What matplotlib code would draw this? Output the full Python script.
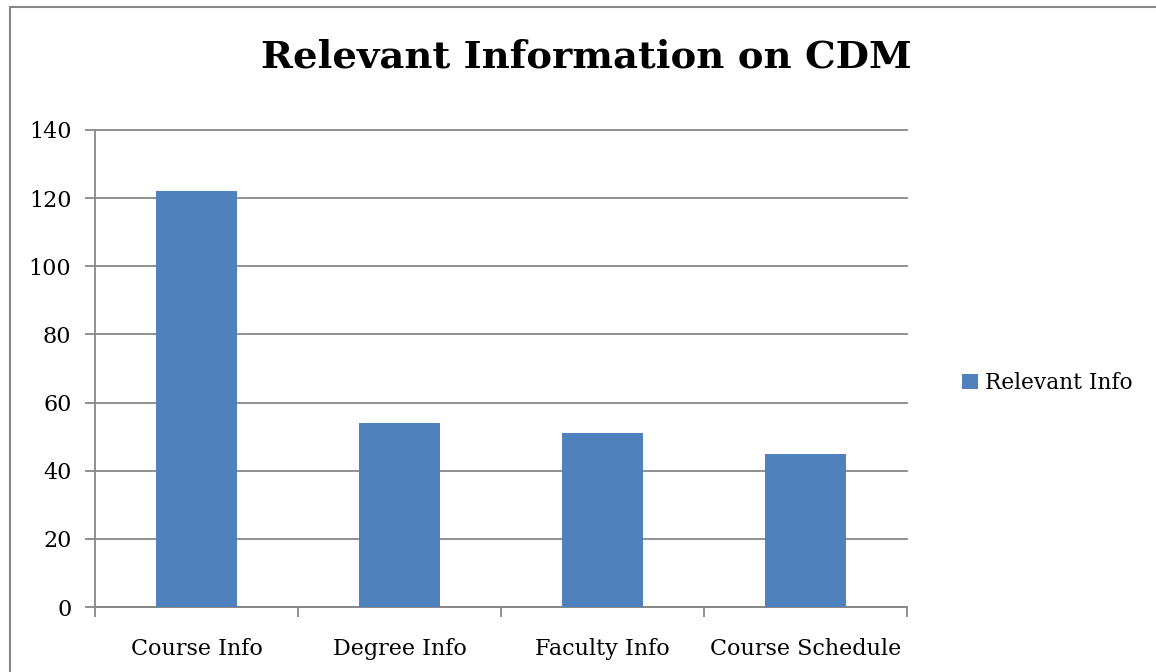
import matplotlib.pyplot as plt
from matplotlib.patches import Rectangle

categories = ['Course Info', 'Degree Info', 'Faculty Info', 'Course Schedule']
values = [122, 54, 51, 45]
series_name = 'Relevant Info'
yticks = [0, 20, 40, 60, 80, 100, 120, 140]

plt.rcParams['font.family'] = ['DejaVu Serif']
bar_color = '#4f81bd'
grid_color = '#878787'

fig = plt.figure(figsize=(11.56, 6.72), dpi=100)
ax = fig.add_axes([95 / 1156, 1 - 607 / 672, 812 / 1156, 477 / 672])

x = list(range(len(categories)))
ax.bar(x, values, width=0.4, color=bar_color, label=series_name, zorder=3)

ax.set_xlim(-0.5, len(categories) - 0.5)
ax.set_ylim(0, 140)
ax.set_yticks(yticks)
ax.yaxis.grid(True, color=grid_color, linewidth=1.3, zorder=0)
for gl in ax.get_ygridlines():
    gl.set_clip_on(False)

ax.set_xticks([i - 0.5 for i in range(len(categories) + 1)])
ax.set_xticklabels([])
ax.set_xticks(x, minor=True)
ax.set_xticklabels(categories, minor=True, fontsize=16)
ax.tick_params(axis='x', which='minor', length=0, pad=22)
ax.tick_params(axis='x', which='major', length=7, color=grid_color, width=1.3)
ax.tick_params(axis='y', length=7, color=grid_color, width=1.3, labelsize=16, pad=10)

for side in ['top', 'right']:
    ax.spines[side].set_visible(False)
for side in ['left', 'bottom']:
    ax.spines[side].set_color(grid_color)
    ax.spines[side].set_linewidth(1.3)

fig.text(586 / 1156, 1 - 57 / 672, 'Relevant Information on CDM', ha='center', va='center',
         fontsize=27.7, fontweight='bold')

ax.legend(loc='center left', bbox_to_anchor=(962 / 1156, 1 - 383 / 672), bbox_transform=fig.transFigure,
          frameon=False, fontsize=15.6, handlelength=0.75, handleheight=0.75, handletextpad=0.3,
          borderaxespad=0, borderpad=0)

# outer chart border (left and top edges visible)
fig.patches.append(Rectangle((10 / 1156, -0.1), 1.2, 1 - 7 / 672 + 0.1, transform=fig.transFigure,
                             fill=False, edgecolor=grid_color, linewidth=1.5))

fig.savefig('out.png', dpi=100)
